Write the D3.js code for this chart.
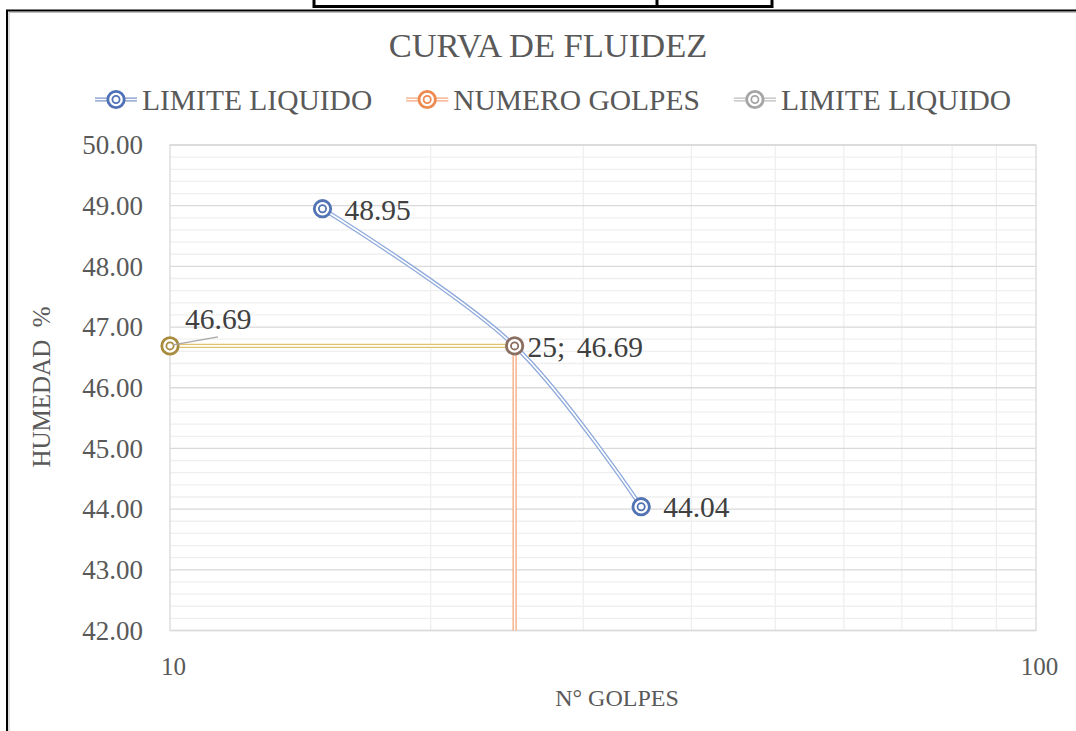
<!DOCTYPE html>
<html>
<head>
<meta charset="utf-8">
<script src="https://cdn.jsdelivr.net/npm/d3@7"></script>
<style>
  html, body { margin: 0; padding: 0; background: #fff; }
  svg { display: block; }
</style>
</head>
<body>
<svg id="chart" width="1076" height="731"></svg>
<script>
// Liquid-limit (flow curve) data
const blows = [15, 25, 35];
const moisture = [48.95, 46.69, 44.04];
const targetBlows = [25, 25];
const targetMoistureV = [42, 46.69];
const refBlows = [10, 25];
const refMoisture = [46.69, 46.69];
const yTicks = [42, 43, 44, 45, 46, 47, 48, 49, 50];
const xTickLabels = [10, 100];
const legendNames = ["LIMITE LIQUIDO", "NUMERO GOLPES", "LIMITE LIQUIDO"];
const legendColors = ["#4F72B6", "#EE8A4E", "#A5A5A5"];

const FONT = "'Liberation Serif', 'Times New Roman', serif";
const svg = d3.select("#chart");
const W = 1076, H = 731;

// frame decorations
svg.append("rect").attr("x", 314).attr("y", -6).attr("width", 458).attr("height", 12.5)
  .attr("fill", "none").attr("stroke", "#000").attr("stroke-width", 3);
svg.append("line").attr("x1", 657).attr("x2", 657).attr("y1", 0).attr("y2", 6)
  .attr("stroke", "#000").attr("stroke-width", 3);
svg.append("path").attr("d", `M7,${H} V10.5 H${W}`)
  .attr("fill", "none").attr("stroke", "#000").attr("stroke-width", 2);
svg.append("path").attr("d", `M9,${H} V12.5 H${W}`)
  .attr("fill", "none").attr("stroke", "#bdbdbd").attr("stroke-width", 1);

const x = d3.scaleLog().domain([10, 100]).range([170, 1036]);
const y = d3.scaleLinear().domain([42, 50]).range([630.5, 145]);

const grid = svg.append("g");
// minor horizontal grid (0.2 step)
const minorY = d3.range(42, 50.001, 0.2).filter(v => Math.abs(v - Math.round(v)) > 1e-6);
grid.selectAll(".mh").data(minorY).join("line")
  .attr("x1", x(10)).attr("x2", x(100))
  .attr("y1", d => y(d)).attr("y2", d => y(d))
  .attr("stroke", "#EFEFEF").attr("stroke-width", 1.3);
// minor vertical grid
const minorX = d3.range(20, 100, 10);
grid.selectAll(".mv").data(minorX).join("line")
  .attr("x1", d => x(d)).attr("x2", d => x(d))
  .attr("y1", y(50)).attr("y2", y(42))
  .attr("stroke", "#EFEFEF").attr("stroke-width", 1.3);
// major horizontal grid
grid.selectAll(".MH").data(yTicks).join("line")
  .attr("x1", x(10)).attr("x2", x(100))
  .attr("y1", d => y(d)).attr("y2", d => y(d))
  .attr("stroke", "#D9D9D9").attr("stroke-width", 1.3);
// plot borders
grid.append("rect").attr("x", x(10)).attr("y", y(50))
  .attr("width", x(100) - x(10)).attr("height", y(42) - y(50))
  .attr("fill", "none").attr("stroke", "#D9D9D9").attr("stroke-width", 1.3);

// y axis labels
const yAxis = d3.axisLeft(y).tickValues(yTicks).tickFormat(d3.format(".2f")).tickSize(0).tickPadding(27);
const gy = svg.append("g").attr("transform", `translate(${x(10)},0)`).call(yAxis);
gy.select(".domain").remove();
gy.selectAll("text").style("font-size", "27px").style("fill", "#595959").style("font-family", FONT);

// x axis labels
const xAxis = d3.axisBottom(x).tickValues(xTickLabels).tickFormat(d3.format("d")).tickSize(0).tickPadding(27);
const gx = svg.append("g").attr("transform", `translate(0,${y(42)})`).call(xAxis);
gx.select(".domain").remove();
gx.selectAll("text").attr("dx", 3).style("font-size", "25px").style("fill", "#595959").style("font-family", FONT);

function txt(sel, size, color) {
  return sel.style("font-family", FONT).style("font-size", size + "px").style("fill", color);
}

// titles
txt(svg.append("text").attr("x", 548).attr("y", 57).attr("text-anchor", "middle"), 34.5, "#595959")
  .text("CURVA DE FLUIDEZ");
txt(svg.append("text").attr("x", 617).attr("y", 706).attr("text-anchor", "middle"), 24, "#595959")
  .text("N° GOLPES");
txt(svg.append("text").attr("transform", "translate(50,387) rotate(-90)").attr("text-anchor", "middle"), 25, "#595959")
  .style("white-space", "pre").text("HUMEDAD  %");

// double (compound) line helper
function doubleLine(g, pts, color, curve) {
  const gen = d3.line().x(d => x(d[0])).y(d => y(d[1])).curve(curve || d3.curveLinear);
  g.append("path").attr("d", gen(pts)).attr("fill", "none")
    .attr("stroke", color).attr("stroke-width", 4.2);
  g.append("path").attr("d", gen(pts)).attr("fill", "none")
    .attr("stroke", "#fff").attr("stroke-width", 1.6);
}
function marker(g, cx, cy, color) {
  g.append("circle").attr("cx", cx).attr("cy", cy).attr("r", 8.2)
    .attr("fill", "#fff").attr("stroke", color).attr("stroke-width", 2.8);
  g.append("circle").attr("cx", cx).attr("cy", cy).attr("r", 3.6)
    .attr("fill", "#fff").attr("stroke", color).attr("stroke-width", 1.8);
}

const plot = svg.append("g");
doubleLine(plot, refBlows.map((b, i) => [b, refMoisture[i]]), "#E2C26A");
doubleLine(plot, targetBlows.map((b, i) => [b, targetMoistureV[i]]), "#F3A97A");
doubleLine(plot, blows.map((b, i) => [b, moisture[i]]), "#8EA9DB", d3.curveCatmullRom.alpha(0.5));

blows.forEach((b, i) => {
  if (b !== 25) marker(plot, x(b), y(moisture[i]), "#5374B4");
});
marker(plot, x(refBlows[0]), y(refMoisture[0]), "#A88C3E");
marker(plot, x(targetBlows[1]), y(targetMoistureV[1]), "#8A6F60");

// data labels
const lbl = svg.append("g");
const f2 = d3.format(".2f");
txt(lbl.append("text").attr("x", x(blows[0]) + 22).attr("y", y(moisture[0]) + 11), 29.5, "#404040")
  .text(f2(moisture[0]));
txt(lbl.append("text").attr("x", x(blows[2]) + 22).attr("y", y(moisture[2]) + 10), 29.5, "#404040")
  .text(f2(moisture[2]));
const mid = txt(lbl.append("text").attr("x", x(blows[1]) + 13).attr("y", y(moisture[1]) + 11), 29.5, "#404040");
mid.append("tspan").text(`${blows[1]};`);
mid.append("tspan").attr("dx", 4).text(" " + f2(moisture[1]));
txt(lbl.append("text").attr("x", x(refBlows[0]) + 15).attr("y", y(refMoisture[0]) - 17), 29.5, "#404040")
  .text(f2(refMoisture[0]));
svg.append("line").attr("x1", x(refBlows[0]) + 3).attr("y1", y(refMoisture[0]) - 1)
  .attr("x2", x(refBlows[0]) + 48).attr("y2", y(refMoisture[0]) - 9)
  .attr("stroke", "#A6A6A6").attr("stroke-width", 1.3);

// legend
const leg = svg.append("g");
let lx = 95;
legendNames.forEach((name, i) => {
  const c = legendColors[i];
  const g = leg.append("g");
  g.append("line").attr("x1", lx).attr("x2", lx + 42).attr("y1", 99.5).attr("y2", 99.5)
    .attr("stroke", c).attr("stroke-width", 4.2).attr("opacity", 0.75);
  g.append("line").attr("x1", lx).attr("x2", lx + 42).attr("y1", 99.5).attr("y2", 99.5)
    .attr("stroke", "#fff").attr("stroke-width", 1.6);
  marker(g, lx + 21, 99.5, c);
  const t = txt(g.append("text").attr("x", lx + 47).attr("y", 110), 29.5, "#595959").text(name);
  lx += 47 + t.node().getComputedTextLength() + 34;
});
</script>
</body>
</html>
